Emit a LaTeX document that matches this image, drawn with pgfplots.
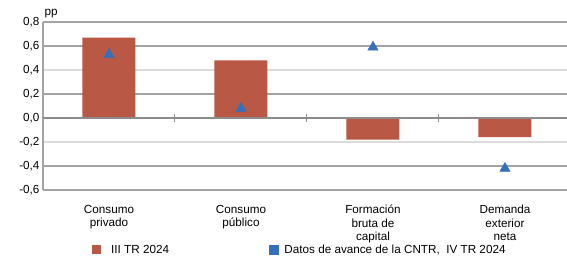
\documentclass[border=0pt]{standalone}
\usepackage{pgfplots}
\pgfplotsset{compat=1.18}
\usepackage{fontspec}
\setmainfont{Liberation Sans}
\definecolor{barred}{HTML}{B95844}
\definecolor{triblue}{HTML}{3570BE}
\definecolor{gridg}{HTML}{A4A4A4}
\definecolor{gridf}{HTML}{DCDCDC}
\definecolor{zerog}{HTML}{8C8C8C}
\begin{document}
\begin{tikzpicture}
\useasboundingbox (-43bp,-67bp) rectangle (524bp,190bp);
\begin{axis}[
  at={(0bp,0bp)}, anchor=south west,
  scale only axis, width=524bp, height=168bp,
  xmin=-0.5, xmax=3.47, ymin=-0.6, ymax=0.8,
  font=\fontsize{11.7bp}{13.6bp}\selectfont,
  axis line style={draw=none},
  xtick={0,1,2,3},
  xticklabels={{Consumo\\privado},{Consumo\\público},{Formación\\bruta de\\capital},{Demanda\\exterior\\neta}},
  xticklabel style={align=center, yshift=-11.5bp},
  ytick={-0.6,-0.4,-0.2,0,0.2,0.4,0.6,0.8},
  yticklabels={{-0,6},{-0,4},{-0,2},{0,0},{0,2},{0,4},{0,6},{0,8}},
  tick style={draw=none},
  legend style={draw=none, fill=none, at={(axis description cs:0.0935,-0.357)}, anchor=west, inner sep=0pt, legend columns=2,
    /tikz/every even column/.append style={column sep=98bp}, font=\fontsize{11.7bp}{14bp}\selectfont},
  clip=false,
]
\addplot[forget plot, sharp plot, no markers, draw=gridg, line width=1.5bp] coordinates {(-0.5,0.8) (3.47,0.8)};
\addplot[forget plot, sharp plot, no markers, draw=gridg, line width=1.5bp] coordinates {(-0.5,0.6) (3.47,0.6)};
\addplot[forget plot, sharp plot, no markers, draw=gridf, line width=1.5bp] coordinates {(-0.5,0.4) (3.47,0.4)};
\addplot[forget plot, sharp plot, no markers, draw=gridg, line width=1.5bp] coordinates {(-0.5,0.2) (3.47,0.2)};
\addplot[forget plot, sharp plot, no markers, draw=gridf, line width=1.5bp] coordinates {(-0.5,-0.2) (3.47,-0.2)};
\addplot[forget plot, sharp plot, no markers, draw=gridg, line width=1.5bp] coordinates {(-0.5,-0.4) (3.47,-0.4)};
\addplot[forget plot, sharp plot, no markers, draw=gridg, line width=1.5bp] coordinates {(-0.5,-0.6) (3.47,-0.6)};
\addplot[forget plot, sharp plot, no markers, draw=gridg, line width=1.2bp] coordinates {(-0.5,-0.6) (-0.5,0.8)};
\addplot[ybar, bar width=53bp, fill=barred, draw=none,
  legend image code/.code={\fill[barred] (0bp,-4.5bp) rectangle (9bp,4.5bp); \path (17bp,0bp);}]
  coordinates {(0,0.67) (1,0.48) (2,-0.18) (3,-0.16)};
\addlegendentry{III TR 2024}
\addplot[only marks, mark=triangle*, mark size=6bp, color=triblue,
  legend image code/.code={\fill[triblue] (0bp,-4.5bp) rectangle (9bp,4.5bp); \path (13bp,0bp);}]
  coordinates {(0,0.53) (1,0.08) (2,0.59) (3,-0.42)};
\addlegendentry{Datos de avance de la CNTR,\ \ IV TR 2024}
\draw[draw=zerog, line width=1.3bp] (axis cs:-0.5,0) -- (axis cs:3.47,0);
\draw[draw=zerog, line width=1bp] (axis cs:0.5,-0.033) -- (axis cs:0.5,0.033);
\draw[draw=zerog, line width=1bp] (axis cs:1.5,-0.033) -- (axis cs:1.5,0.033);
\draw[draw=zerog, line width=1bp] (axis cs:2.5,-0.033) -- (axis cs:2.5,0.033);
\node[anchor=base west, font=\fontsize{11.7bp}{14bp}\selectfont] at (rel axis cs:0,1) [xshift=-2bp, yshift=6bp] {pp};
\end{axis}
\end{tikzpicture}
\end{document}
